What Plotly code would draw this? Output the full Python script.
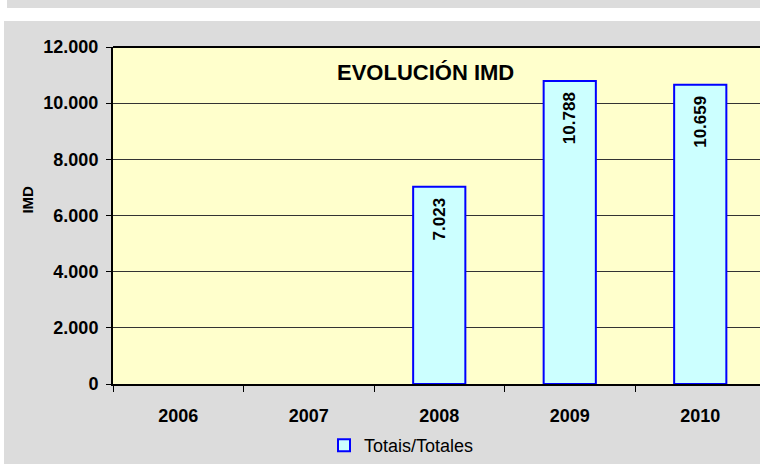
import plotly.graph_objects as go

years = ["2006", "2007", "2008", "2009", "2010"]
totals = [None, None, 7023, 10788, 10659]
y_ticks = [0, 2000, 4000, 6000, 8000, 10000, 12000]
series_name = "Totais/Totales"
chart_title = "EVOLUCIÓN IMD"
y_title = "IMD"

W, H = 760, 464
L, R, T, B = 113, 0, 47, 79
pw, ph = W - L - R, H - T - B

def px(x):
    return (x - L) / pw

def py(y):
    return (H - B - y) / ph

FONT = "Liberation Sans, Arial, sans-serif"
GRAY = "#DCDCDC"

fig = go.Figure()
fig.add_trace(go.Bar(
    x=years, y=totals, name=series_name,
    marker=dict(color="#CCFFFF", line=dict(color="#0000FF", width=2)),
    width=0.4,
    texttemplate="%{y:,.0f}\u00a0\u2009", textposition="inside", insidetextanchor="end",
    textangle=-90, textfont=dict(family=FONT, size=17, color="black", weight="bold"),
    cliponaxis=False,
))

# white gaps around the grey panels (paper itself is grey)
shapes = [
    dict(type="rect", xref="paper", yref="paper", x0=px(-5), x1=px(W + 5), y0=py(21), y1=py(8),
         fillcolor="white", line=dict(width=0), layer="below"),
    dict(type="rect", xref="paper", yref="paper", x0=px(-5), x1=px(4), y0=py(H + 5), y1=py(21),
         fillcolor="white", line=dict(width=0), layer="below"),
    dict(type="rect", xref="paper", yref="paper", x0=px(-5), x1=px(7), y0=py(8), y1=py(-5),
         fillcolor="white", line=dict(width=0), layer="below"),
    dict(type="line", xref="paper", yref="paper", x0=0, x1=1.01, y0=1, y1=1,
         line=dict(color="black", width=2), layer="above"),
]

fig.update_layout(
    width=W, height=H,
    margin=dict(l=L, r=R, t=T, b=B, pad=0),
    paper_bgcolor=GRAY, plot_bgcolor="#FFFFCC",
    separators=",.",
    font=dict(family=FONT, size=18, color="black"),
    shapes=shapes,
    showlegend=True,
    legend=dict(x=px(324), y=py(447), xanchor="left", yanchor="middle",
                bgcolor="rgba(0,0,0,0)", font=dict(family=FONT, size=18, color="black"),
                itemwidth=30),
    xaxis=dict(type="category", categoryorder="array", categoryarray=years,
               range=[-0.5, -0.5 + (W - L) / 130.5],
               showgrid=False, showline=True, linecolor="black", linewidth=2, mirror=False,
               ticks="outside", tickson="boundaries", ticklen=6, tickcolor="black", tickwidth=1,
               tickfont=dict(family=FONT, size=18, color="black", weight="bold"),
               ticklabelstandoff=14),
    yaxis=dict(range=[0, 12000], tickvals=y_ticks, tickformat=",d",
               showgrid=True, gridcolor="#333333", gridwidth=1,
               showline=True, linecolor="black", linewidth=2, mirror=False,
               ticks="outside", ticklen=5, tickcolor="black", tickwidth=1,
               ticklabelstandoff=4,
               tickfont=dict(family=FONT, size=18, color="black", weight="bold"),
               zeroline=False),
    annotations=[
        dict(text="<b>" + chart_title + "</b>", xref="paper", yref="paper",
             x=px(425), y=py(73), xanchor="center", yanchor="middle", showarrow=False,
             font=dict(family=FONT, size=22, color="black")),
        dict(text="<b>" + y_title + "</b>", xref="paper", yref="paper",
             x=px(28), y=py(200), xanchor="center", yanchor="middle", showarrow=False,
             textangle=-90, font=dict(family=FONT, size=15, color="black")),
    ],
)

fig.write_html(
    "out.html", config={"displayModeBar": False},
    post_script=("document.body.style.margin='0px';"
                 "document.body.style.overflow='hidden';"
                 "document.documentElement.style.overflow='hidden';"),
)
